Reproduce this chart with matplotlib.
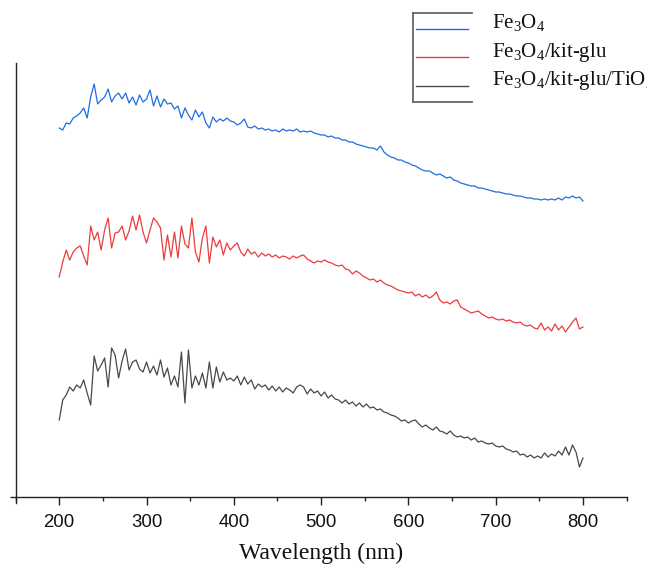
import numpy as np
import matplotlib
matplotlib.use("Agg")
import matplotlib.pyplot as plt
from matplotlib.lines import Line2D
from matplotlib.ticker import MultipleLocator

plt.rcParams["font.family"] = ["Liberation Sans", "DejaVu Sans"]

# UV-Vis absorbance spectra (arbitrary units), sampled every 4 nm
wavelength = np.arange(200, 801, 4)

fe3o4 = [
    3.69, 3.67, 3.74, 3.73, 3.79, 3.81, 3.84, 3.89, 3.79, 4.00,
    4.13, 3.93, 3.97, 4.00, 4.08, 3.95, 4.01, 4.04, 3.98, 4.04,
    3.94, 4.00, 3.92, 4.02, 3.95, 3.98, 4.07, 3.91, 4.01, 3.90,
    3.98, 3.93, 3.94, 3.88, 3.91, 3.79, 3.89, 3.82, 3.77, 3.87,
    3.80, 3.85, 3.74, 3.69, 3.80, 3.75, 3.78, 3.76, 3.79, 3.76,
    3.75, 3.72, 3.74, 3.78, 3.70, 3.69, 3.71, 3.68, 3.69, 3.67,
    3.68, 3.66, 3.67, 3.65, 3.68, 3.66, 3.67, 3.66, 3.68, 3.65,
    3.66, 3.65, 3.66, 3.64, 3.63, 3.62, 3.62, 3.60, 3.61, 3.59,
    3.59, 3.57, 3.57, 3.55, 3.55, 3.53, 3.52, 3.51, 3.50, 3.49,
    3.49, 3.47, 3.51, 3.45, 3.42, 3.40, 3.39, 3.37, 3.37, 3.35,
    3.34, 3.32, 3.31, 3.29, 3.27, 3.26, 3.26, 3.24, 3.22, 3.23,
    3.21, 3.19, 3.20, 3.17, 3.16, 3.14, 3.13, 3.12, 3.11, 3.11,
    3.09, 3.09, 3.08, 3.07, 3.06, 3.05, 3.05, 3.04, 3.03, 3.03,
    3.02, 3.01, 3.01, 3.00, 2.99, 2.99, 2.98, 2.98, 2.97, 2.98,
    2.97, 2.98, 2.97, 2.99, 2.97, 3.00, 2.99, 3.01, 2.99, 3.00,
    2.96,
]

fe3o4_kit_glu = [
    2.20, 2.35, 2.47, 2.37, 2.45, 2.49, 2.51, 2.41, 2.32, 2.71,
    2.57, 2.65, 2.47, 2.67, 2.79, 2.49, 2.64, 2.65, 2.71, 2.57,
    2.66, 2.81, 2.67, 2.82, 2.65, 2.54, 2.67, 2.79, 2.75, 2.69,
    2.37, 2.62, 2.40, 2.65, 2.39, 2.71, 2.53, 2.49, 2.79, 2.45,
    2.35, 2.59, 2.71, 2.34, 2.60, 2.50, 2.57, 2.42, 2.54, 2.47,
    2.51, 2.54, 2.45, 2.41, 2.48, 2.43, 2.45, 2.40, 2.44, 2.41,
    2.43, 2.40, 2.42, 2.39, 2.41, 2.40, 2.38, 2.41, 2.39, 2.41,
    2.42, 2.38, 2.36, 2.34, 2.36, 2.35, 2.37, 2.35, 2.34, 2.32,
    2.31, 2.32, 2.28, 2.27, 2.23, 2.26, 2.24, 2.21, 2.19, 2.17,
    2.18, 2.15, 2.17, 2.14, 2.12, 2.11, 2.09, 2.07, 2.06, 2.05,
    2.04, 2.05, 2.01, 2.03, 2.00, 2.02, 1.99, 2.01, 2.05, 1.97,
    1.94, 1.95, 1.93, 1.96, 1.97, 1.90, 1.88, 1.86, 1.84, 1.85,
    1.86, 1.83, 1.81, 1.79, 1.80, 1.78, 1.77, 1.78, 1.76, 1.77,
    1.75, 1.74, 1.75, 1.72, 1.71, 1.72, 1.69, 1.68, 1.74, 1.67,
    1.70, 1.66, 1.73, 1.67, 1.71, 1.65, 1.70, 1.75, 1.79, 1.68,
    1.70,
]

fe3o4_kit_glu_tio2 = [
    0.77, 0.97, 1.02, 1.10, 1.06, 1.12, 1.09, 1.17, 1.04, 0.92,
    1.41, 1.26, 1.32, 1.39, 1.10, 1.49, 1.42, 1.19, 1.36, 1.48,
    1.27, 1.35, 1.37, 1.28, 1.25, 1.35, 1.24, 1.31, 1.22, 1.37,
    1.20, 1.29, 1.12, 1.21, 1.10, 1.45, 0.94, 1.47, 1.09, 1.21,
    1.12, 1.24, 1.09, 1.35, 1.09, 1.30, 1.15, 1.25, 1.17, 1.19,
    1.16, 1.21, 1.12, 1.20, 1.13, 1.17, 1.08, 1.13, 1.10, 1.12,
    1.07, 1.11, 1.06, 1.10, 1.05, 1.09, 1.07, 1.04, 1.10, 1.12,
    1.10, 1.03, 1.08, 1.04, 1.06, 1.01, 1.05, 0.99, 1.02, 0.98,
    0.97, 0.94, 0.97, 0.93, 0.95, 0.91, 0.94, 0.90, 0.93, 0.89,
    0.90, 0.87, 0.88, 0.85, 0.84, 0.82, 0.81, 0.79, 0.76, 0.77,
    0.74, 0.76, 0.77, 0.73, 0.70, 0.72, 0.69, 0.67, 0.70, 0.66,
    0.65, 0.63, 0.66, 0.62, 0.60, 0.61, 0.59, 0.60, 0.57, 0.59,
    0.55, 0.56, 0.54, 0.53, 0.54, 0.51, 0.50, 0.51, 0.48, 0.47,
    0.45, 0.46, 0.42, 0.43, 0.40, 0.42, 0.39, 0.41, 0.39, 0.44,
    0.40, 0.43, 0.41, 0.46, 0.42, 0.50, 0.42, 0.52, 0.45, 0.30,
    0.39,
]

series_labels = [
    r"Fe$_\mathregular{3}$O$_\mathregular{4}$",
    r"Fe$_\mathregular{3}$O$_\mathregular{4}$/kit-glu",
    r"Fe$_\mathregular{3}$O$_\mathregular{4}$/kit-glu/TiO$_\mathregular{2}$",
]
series_colors = ["#1f6ee0", "#ee3b3b", "#484848"]

W, H = 647, 566
fig = plt.figure(figsize=(W / 100, H / 100), dpi=100)
ax = fig.add_axes([15.6 / W, 1 - 503 / H, 611 / W, 440 / H])

for ys, c in zip([fe3o4, fe3o4_kit_glu, fe3o4_kit_glu_tio2], series_colors):
    ax.plot(wavelength, ys, color=c, lw=0.9)

ax.set_xlim(150, 850)
ax.set_ylim(-0.06, 4.34)

ax.spines["top"].set_visible(False)
ax.spines["right"].set_visible(False)
ax.spines["bottom"].set_position(("data", 0))
for s in ("left", "bottom"):
    ax.spines[s].set_linewidth(1.0)
    ax.spines[s].set_color("#222222")

ax.xaxis.set_major_locator(MultipleLocator(100))
ax.xaxis.set_minor_locator(MultipleLocator(50))
ax.tick_params(axis="x", which="major", direction="out", length=5.5, width=1.0,
               pad=6.5, labelsize=13.4, colors="#222222", labelcolor="#111111")
ax.tick_params(axis="x", which="minor", direction="out", length=3.1, width=1.0,
               colors="#222222")

ax.set_yticks([0])
ax.set_yticklabels([])
ax.tick_params(axis="y", direction="out", length=4, width=1.0, colors="#222222")

ax.set_xlabel("Wavelength (nm)", fontsize=17, family="Liberation Serif", color="#111111")
ax.xaxis.set_label_coords(0.5, -(553 - 503) / 440)
ax.xaxis.label.set_va("center")

# legend: frame around the sample lines, labels to the right
def fx(px):
    return px / W

def fy(py):
    return 1 - py / H

frame_col = "#666666"
fig.add_artist(Line2D([fx(412.7), fx(412.7)], [fy(12.7), fy(101.7)], color=frame_col, lw=1.3))
fig.add_artist(Line2D([fx(412.7), fx(471.7)], [fy(12.7), fy(12.7)], color=frame_col, lw=1.3))
fig.add_artist(Line2D([fx(412.7), fx(471.7)], [fy(101.7), fy(101.7)], color=frame_col, lw=1.3))
for row_y, lab, c in zip([29.0, 57.3, 86.0], series_labels, series_colors):
    fig.add_artist(Line2D([fx(416), fx(468)], [fy(row_y), fy(row_y)], color=c, lw=1.0))
    fig.text(fx(491.7), fy(row_y - 0.5), lab, fontsize=15, family="Liberation Serif",
             va="baseline", ha="left", color="#111111")

fig.savefig("out.png", dpi=100)
